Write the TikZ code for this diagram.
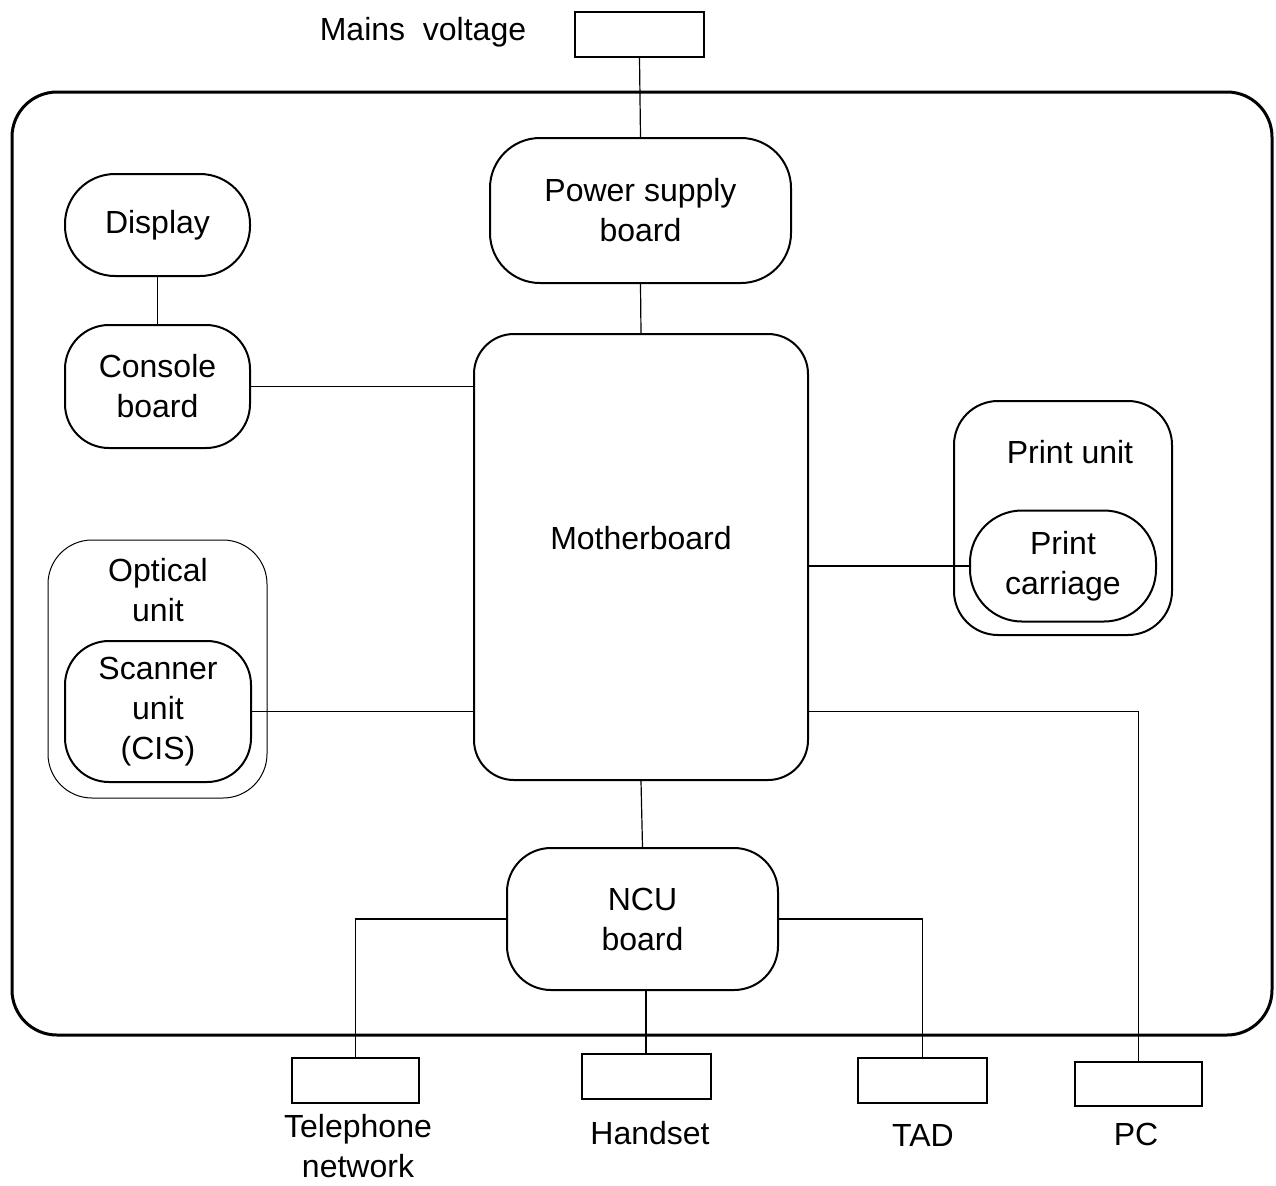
\documentclass[tikz,border=0pt]{standalone}
\usepackage{fontspec}
\setmainfont{Liberation Sans}
\begin{document}
\begin{tikzpicture}[x=0.5pt,y=-0.5pt,
  every node/.style={font=\fontsize{16}{20}\selectfont, align=center},
  rbox/.style={draw, line width=1pt, rounded corners=22pt, inner sep=0pt},
  sbox/.style={draw, line width=1pt, inner sep=0pt},
  conn/.style={line width=0.6pt},
  txt/.style={inner sep=0pt}]
\useasboundingbox (0,0) rectangle (1276,1185);
% outer frame
\node[draw, line width=1.5pt, rounded corners=22.5pt, minimum width=630pt, minimum height=471.5pt] (frame) at (642,563.5) {};
% top
\node[sbox, minimum width=64.5pt, minimum height=22.5pt] (mains) at (639.5,34.5) {};
\node[txt] (mainstext) at (423,32) {Mains\ \ voltage};
\node[rbox, rounded corners=25pt, minimum width=150.5pt, minimum height=72.5pt] (power) at (640.5,210.5) {Power supply\\board};
\node[rbox, rounded corners=20pt, minimum width=167pt, minimum height=223pt,
  label={[yshift=9.5pt]center:Motherboard}] (mb) at (641,557) {};
% left
\node[rbox, rounded corners=25pt, minimum width=92.5pt, minimum height=51pt] (display) at (157.5,225) {Display};
\node[rbox, minimum width=92.5pt, minimum height=61.5pt] (console) at (157.5,386.5) {Console\\board};
\node[draw, line width=0.5pt, rounded corners=22pt, minimum width=109.5pt, minimum height=129pt] (optical) at (157.5,669) {};
\node[txt] (opticaltext) at (158,590) {Optical\\unit};
\node[rbox, minimum width=93pt, minimum height=70.5pt] (scanner) at (158,711.5) {Scanner\\unit\\(CIS)};
% right
\node[rbox, minimum width=109pt, minimum height=117pt] (printunit) at (1063,518) {};
\node[txt] (printtext) at (1070,452) {Print unit};
\node[rbox, rounded corners=26pt, minimum width=93pt, minimum height=55.5pt] (carriage) at (1063,566) {Print\\carriage};
% NCU
\node[rbox, minimum width=135.5pt, minimum height=71pt] (ncu) at (642.5,919) {NCU\\board};
% bottom boxes
\node[sbox, minimum width=63.5pt, minimum height=22.5pt] (tel) at (355.5,1080.5) {};
\node[sbox, minimum width=64.5pt, minimum height=22.5pt] (handset) at (646,1076.5) {};
\node[sbox, minimum width=64.5pt, minimum height=22.5pt] (tad) at (922.5,1080.5) {};
\node[sbox, minimum width=63.5pt, minimum height=22pt] (pc) at (1138.5,1084) {};
\node[txt] (teltext) at (358,1146) {Telephone\\network};
\node[txt] (handsettext) at (650,1133) {Handset};
\node[txt] (tadtext) at (923,1135) {TAD};
\node[txt] (pctext) at (1136,1134) {PC};
% connectors
\draw[conn] (mains.south) -- (power.north);
\draw[conn] (power.south) -- (mb.north);
\draw[conn] (display.south) -- (console.north);
\draw[conn] (console.east) -- (mb.west |- console.east);
\draw[conn] (scanner.east) -- (mb.west |- scanner.east);
\draw[conn] (mb.east |- carriage.west) -- (carriage.west);
\draw[conn] (mb.east |- scanner.east) -| (pc.north);
\draw[conn] (mb.south) -- (ncu.north);
\draw[conn] (ncu.west) -| (tel.north);
\draw[conn] (ncu.east) -| (tad.north);
\draw[conn] (handset.north |- ncu.south) -- (handset.north);
\end{tikzpicture}
\end{document}
